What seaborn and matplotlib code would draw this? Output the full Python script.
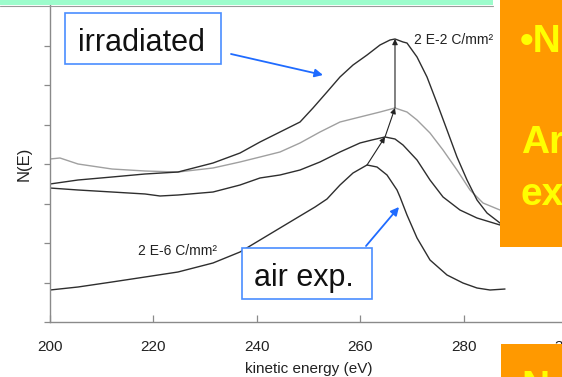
import matplotlib
matplotlib.use("Agg")
import matplotlib.pyplot as plt
import seaborn as sns
import numpy as np
from matplotlib.patches import Rectangle, FancyArrowPatch
from matplotlib.lines import Line2D

# ---------------- data (kinetic energy in eV, N(E) in arbitrary units) ----------------
energy_irr = [200.0, 205.42, 212.0, 218.38, 224.76, 231.53, 236.75, 240.62, 244.49, 248.36,
              250.87, 253.58, 256.09, 258.61, 261.32, 263.83, 265.76, 266.73, 268.28, 269.05,
              270.99, 272.92, 274.85, 276.79, 278.72, 280.66, 282.59, 284.53, 287.04, 288.01]
n_irr = [3.494, 3.595, 3.671, 3.747, 3.797, 4.025, 4.278, 4.557, 4.810, 5.063,
         5.418, 5.823, 6.203, 6.506, 6.759, 7.013, 7.139, 7.165, 7.089, 7.063,
         6.709, 6.203, 5.544, 4.861, 4.177, 3.595, 3.089, 2.759, 2.506, 2.430]

energy_grey = [200.0, 201.93, 205.42, 212.0, 218.38, 224.76, 231.53, 236.75, 240.62, 244.49,
               248.36, 252.22, 256.09, 259.96, 263.83, 266.73, 269.05, 270.99, 273.50, 276.02,
               278.72, 281.24, 283.75, 287.04, 288.01]
n_grey = [4.127, 4.152, 4.000, 3.873, 3.823, 3.797, 3.899, 4.051, 4.177, 4.304,
          4.532, 4.810, 5.063, 5.190, 5.316, 5.418, 5.316, 5.114, 4.785, 4.354,
          3.848, 3.342, 3.013, 2.835, 2.810]

energy_mid = [200.0, 205.42, 212.0, 218.38, 221.28, 224.76, 231.53, 236.75, 240.62, 244.49,
              248.36, 252.22, 256.09, 259.96, 262.28, 264.80, 266.73, 268.28, 270.99, 273.50,
              276.02, 279.30, 282.59, 287.04, 288.01]
n_mid = [3.392, 3.342, 3.291, 3.241, 3.190, 3.215, 3.291, 3.468, 3.646, 3.722,
         3.848, 4.051, 4.304, 4.532, 4.608, 4.684, 4.633, 4.481, 4.101, 3.595,
         3.165, 2.835, 2.633, 2.456, 2.430]

energy_air = [200.0, 205.42, 212.0, 218.38, 224.76, 231.53, 236.75, 240.62, 244.49, 248.36,
              251.26, 253.58, 256.09, 258.61, 261.32, 263.25, 265.18, 267.12, 267.70, 269.05,
              270.99, 273.50, 276.79, 279.88, 282.59, 285.11, 288.01]
n_air = [0.810, 0.886, 1.013, 1.139, 1.266, 1.494, 1.772, 2.076, 2.380, 2.684,
         2.911, 3.114, 3.468, 3.772, 3.975, 3.924, 3.722, 3.342, 3.165, 2.709,
         2.127, 1.570, 1.190, 0.987, 0.861, 0.810, 0.835]

x_ticks = [200, 220, 240, 260, 280, 300]
y_ticks = [0, 1, 2, 3, 4, 5, 6, 7]

label_high = "2 E-2 C/mm²"
label_low = "2 E-6 C/mm²"

# ---------------- style ----------------
sns.set_theme(style="white")
plt.rcParams['font.family'] = ['Liberation Sans', 'DejaVu Sans']

W, H = 562, 377
fig = plt.figure(figsize=(W / 100, H / 100), dpi=100)
fig.patch.set_facecolor("white")


def fx(px):
    return px / W


def fy(py):
    return 1 - py / H


ax = fig.add_axes([fx(50), fy(322), (567 - 50) / W, (322 - 5) / H])
ax.set_facecolor("white")

dark = "#2e2e2e"
grey = "#a0a0a0"
for e, n, c in [(energy_grey, n_grey, grey), (energy_irr, n_irr, dark),
                (energy_mid, n_mid, dark), (energy_air, n_air, dark)]:
    sns.lineplot(x=e, y=n, color=c, lw=1.0, ax=ax, sort=False, estimator=None)

ax.set_xlim(200, 300)
ax.set_ylim(0, (322 - 5) / 39.5)
ax.set_xticks(x_ticks)
ax.set_yticks(y_ticks)
ax.set_yticklabels([])
for s in ["top", "right"]:
    ax.spines[s].set_visible(False)
for s in ["left", "bottom"]:
    ax.spines[s].set_color("#8a8a8a")
    ax.spines[s].set_linewidth(1.0)
ax.tick_params(axis="x", direction="in", length=5, width=0.9, color="#8a8a8a",
               labelsize=11, labelcolor="#222222", pad=13, bottom=True)
ax.tick_params(axis="y", direction="out", length=4, width=0.9, color="#8a8a8a", left=True)
ax.set_xlabel("kinetic energy (eV)", fontsize=11, color="#222222", labelpad=6)
ax.set_ylabel("N(E)", fontsize=12, color="#222222", labelpad=6)


# arrows linking the peaks
def peak(e, n):
    i = int(np.argmax(n))
    return e[i], n[i]


p_air = peak(energy_air, n_air)
p_mid = peak(energy_mid, n_mid)
p_grey = peak(energy_grey, n_grey)
p_irr = peak(energy_irr, n_irr)
chain = [(p_air, p_mid), (p_mid, p_grey), (p_grey, (p_grey[0], p_irr[1]))]
for a, b in chain:
    ax.annotate("", xy=b, xytext=a,
                arrowprops=dict(arrowstyle="-|>", color="#222222", lw=0.8,
                                mutation_scale=8, shrinkA=0, shrinkB=0))

ax.text(270.4, 7.04, label_high, fontsize=10, color="#222222", va="baseline", ha="left")
ax.text(217.0, 1.70, label_low, fontsize=10, color="#222222", va="baseline", ha="left")

# ---------------- slide decorations ----------------
fig.add_artist(Rectangle((fx(0), fy(5)), fx(493), 5 / H, transform=fig.transFigure,
                         facecolor="#9dfccc", edgecolor="none", zorder=5))
fig.add_artist(Line2D([fx(0), fx(493)], [fy(6), fy(6)], transform=fig.transFigure,
                      color="#9a9a9a", lw=0.8, zorder=5))

orange = "#ff9900"
yellow = "#ffff00"
fig.add_artist(Rectangle((fx(500), fy(247)), fx(62), 247 / H, transform=fig.transFigure,
                         facecolor=orange, edgecolor="none", zorder=6))
fig.add_artist(Rectangle((fx(501), fy(377)), fx(61), 33 / H, transform=fig.transFigure,
                         facecolor=orange, edgecolor="none", zorder=6))
for txt, x0, yb in [("•N", 520, 52), ("Ar", 521, 153), ("ex", 521, 205), ("Ne", 521, 398)]:
    fig.text(fx(x0), fy(yb), txt, fontsize=28, fontweight="bold", color=yellow,
             va="baseline", ha="left", zorder=7, clip_on=False)

box_blue = "#4a8dff"
arrow_blue = "#1f6bff"
for (x0, y0, x1, y1) in [(65, 13, 221, 64), (242, 248, 372, 299)]:
    fig.add_artist(Rectangle((fx(x0), fy(y1)), (x1 - x0) / W, (y1 - y0) / H,
                             transform=fig.transFigure, facecolor="white",
                             edgecolor=box_blue, lw=1.2, zorder=8))
fig.text(fx(78), fy(51), "irradiated", fontsize=22, color="#111111", va="baseline",
         ha="left", zorder=9)
fig.text(fx(254), fy(286), "air exp.", fontsize=22, color="#111111", va="baseline",
         ha="left", zorder=9)

for (xa, ya, xb, yb) in [(231, 54, 323, 75), (366, 246, 399, 207)]:
    fig.add_artist(FancyArrowPatch((fx(xa), fy(ya)), (fx(xb), fy(yb)),
                                   transform=fig.transFigure, arrowstyle="-|>",
                                   mutation_scale=12, color=arrow_blue, lw=1.3,
                                   shrinkA=0, shrinkB=0, zorder=9))

fig.savefig("out.png", dpi=100)
